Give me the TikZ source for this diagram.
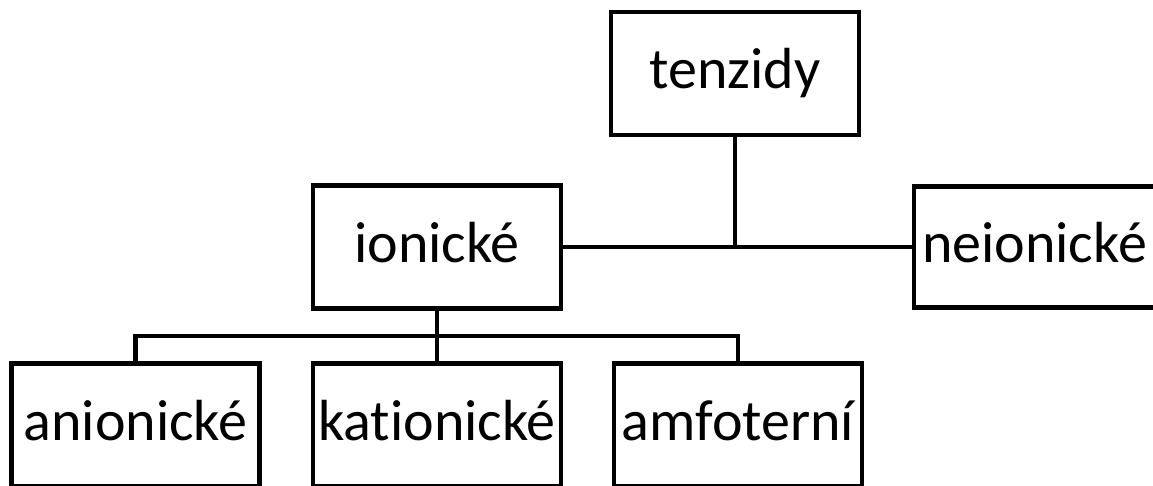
\documentclass[tikz,border=0pt]{standalone}
\usepackage{fontspec}
\setmainfont{Carlito}[Ligatures={NoCommon,NoRare}]
\begin{document}
\begin{tikzpicture}[x=1pt,y=-1pt,
  box/.style={draw=black,line width=4.5pt,rectangle,minimum width=248pt,minimum height=123pt,inner sep=0pt,text height=42pt,text depth=12pt,font=\fontsize{58}{61}\selectfont},
  conn/.style={draw=black,line width=4.5pt}]
\useasboundingbox (0,0) rectangle (1153,486);
\clip (0,0) rectangle (1153,486);
\fill[white] (0,0) rectangle (1153,486);
\node[box] (ten) at (735,73.5) {tenzidy};
\node[box] (ion) at (437,247) {ionické};
\node[box,minimum width=241pt,minimum height=121pt] (neion) at (1034.5,247) {neionické};
\node[box] (an) at (135.5,425) {anionické};
\node[box] (kat) at (437,425) {kationické};
\node[box] (amf) at (738,425) {amfoterní};
\coordinate (j1) at (ten.south |- ion.east);
\coordinate (j2) at (ion.south |- 0,336);
\draw[conn] (ion.east) -- (neion.west);
\draw[conn] (ten.south) -- (j1);
\draw[conn] (ion.south) -- (kat.north);
\draw[conn] (an.north) -- (an.north |- j2) -- (amf.north |- j2) -- (amf.north);
\end{tikzpicture}
\end{document}
